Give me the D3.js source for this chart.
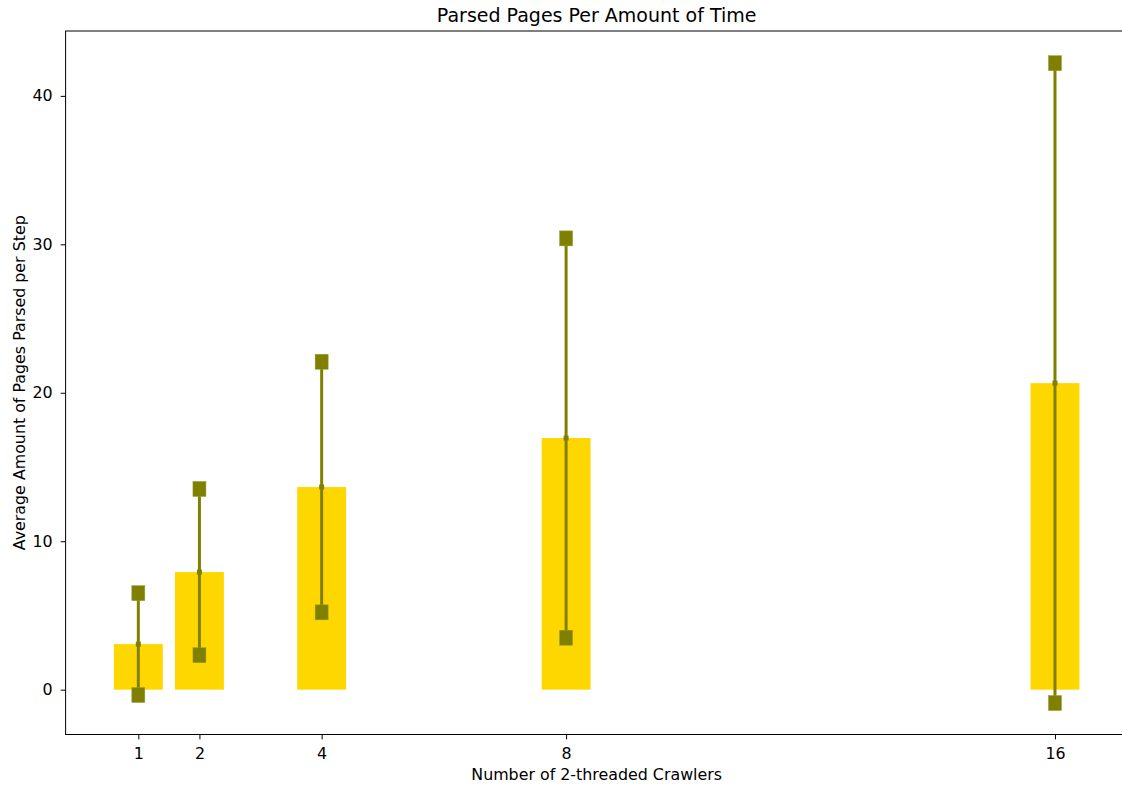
<!DOCTYPE html>
<html>
<head>
<meta charset="utf-8">
<script src="https://cdn.jsdelivr.net/npm/d3@7"></script>
<style>
  html, body { margin: 0; padding: 0; background: #fff; }
  svg { display: block; font-family: "DejaVu Sans", sans-serif; }
</style>
</head>
<body>
<svg id="chart" width="1122" height="790"></svg>
<script>
const crawlers = [1, 2, 4, 8, 16];
const meanPages = [3.07, 7.92, 13.65, 16.95, 20.65];
const stdPages = [3.43, 5.6, 8.44, 13.45, 21.55];
const xTicks = [1, 2, 4, 8, 16];
const yTicks = [0, 10, 20, 30, 40];
const title = "Parsed Pages Per Amount of Time";
const xLabel = "Number of 2-threaded Crawlers";
const yLabel = "Average Amount of Pages Parsed per Step";

const svg = d3.select("#chart");
const L = 65.6, T = 31, R = 1127.7, B = 734.5;
const x = d3.scaleLinear().domain([-0.19, 17.19]).range([L, R]);
const y = d3.scaleLinear().domain([-3.02, 44.37]).range([B, T]);
const barW = 0.8;
const FS = 15.85;

const data = crawlers.map((c, i) => ({c, m: meanPages[i], s: stdPages[i]}));

const g = svg.append("g");
// bars
g.selectAll("rect.bar").data(data).enter().append("rect")
  .attr("class", "bar")
  .attr("x", d => x(d.c - barW / 2))
  .attr("width", d => x(d.c + barW / 2) - x(d.c - barW / 2))
  .attr("y", d => y(Math.max(0, d.m)))
  .attr("height", d => Math.abs(y(0) - y(d.m)))
  .attr("fill", "#FFD700");

const olive = "#808000";
// error lines
g.selectAll("line.err").data(data).enter().append("line")
  .attr("x1", d => x(d.c)).attr("x2", d => x(d.c))
  .attr("y1", d => y(d.m - d.s)).attr("y2", d => y(d.m + d.s))
  .attr("stroke", olive).attr("stroke-width", 3);
// center dot
g.selectAll("rect.mid").data(data).enter().append("rect")
  .attr("x", d => x(d.c) - 2.5).attr("y", d => y(d.m) - 2.5)
  .attr("width", 5).attr("height", 5).attr("fill", olive);
// end markers
const ends = [];
data.forEach(d => { ends.push({c: d.c, v: d.m - d.s}); ends.push({c: d.c, v: d.m + d.s}); });
g.selectAll("rect.cap").data(ends).enter().append("rect")
  .attr("x", d => x(d.c) - 6.5).attr("y", d => y(d.v) - 7.5)
  .attr("width", 13).attr("height", 15)
  .attr("fill", olive).attr("stroke", "#9a9a3a").attr("stroke-width", 0.5);

// axes
const xAxis = d3.axisBottom(x).tickValues(xTicks).tickSize(4.9).tickPadding(7.9).tickFormat(d3.format("d"));
const yAxis = d3.axisLeft(y).tickValues(yTicks).tickSize(4.9).tickPadding(8).tickFormat(d3.format("d"));
const gx = svg.append("g").attr("transform", `translate(0,${B})`).call(xAxis);
const gy = svg.append("g").attr("transform", `translate(${L},0)`).call(yAxis);
[gx, gy].forEach(a => {
  a.select(".domain").remove();
  a.selectAll("text").attr("font-size", FS + "px").attr("fill", "#000").attr("font-family", "DejaVu Sans");
  a.selectAll("line").attr("stroke", "#000").attr("stroke-width", 1);
});
// spines
svg.append("rect").attr("x", L).attr("y", T).attr("width", R - L).attr("height", B - T)
  .attr("fill", "none").attr("stroke", "#000").attr("stroke-width", 1);

svg.append("text").attr("x", (L + R) / 2).attr("y", 22).attr("text-anchor", "middle")
  .attr("font-size", "19px").text(title);
svg.append("text").attr("x", (L + R) / 2).attr("y", 779.5).attr("text-anchor", "middle")
  .attr("font-size", FS + "px").text(xLabel);
svg.append("text").attr("transform", `translate(25,${(T + B) / 2}) rotate(-90)`).attr("text-anchor", "middle")
  .attr("font-size", FS + "px").text(yLabel);
</script>
</body>
</html>
